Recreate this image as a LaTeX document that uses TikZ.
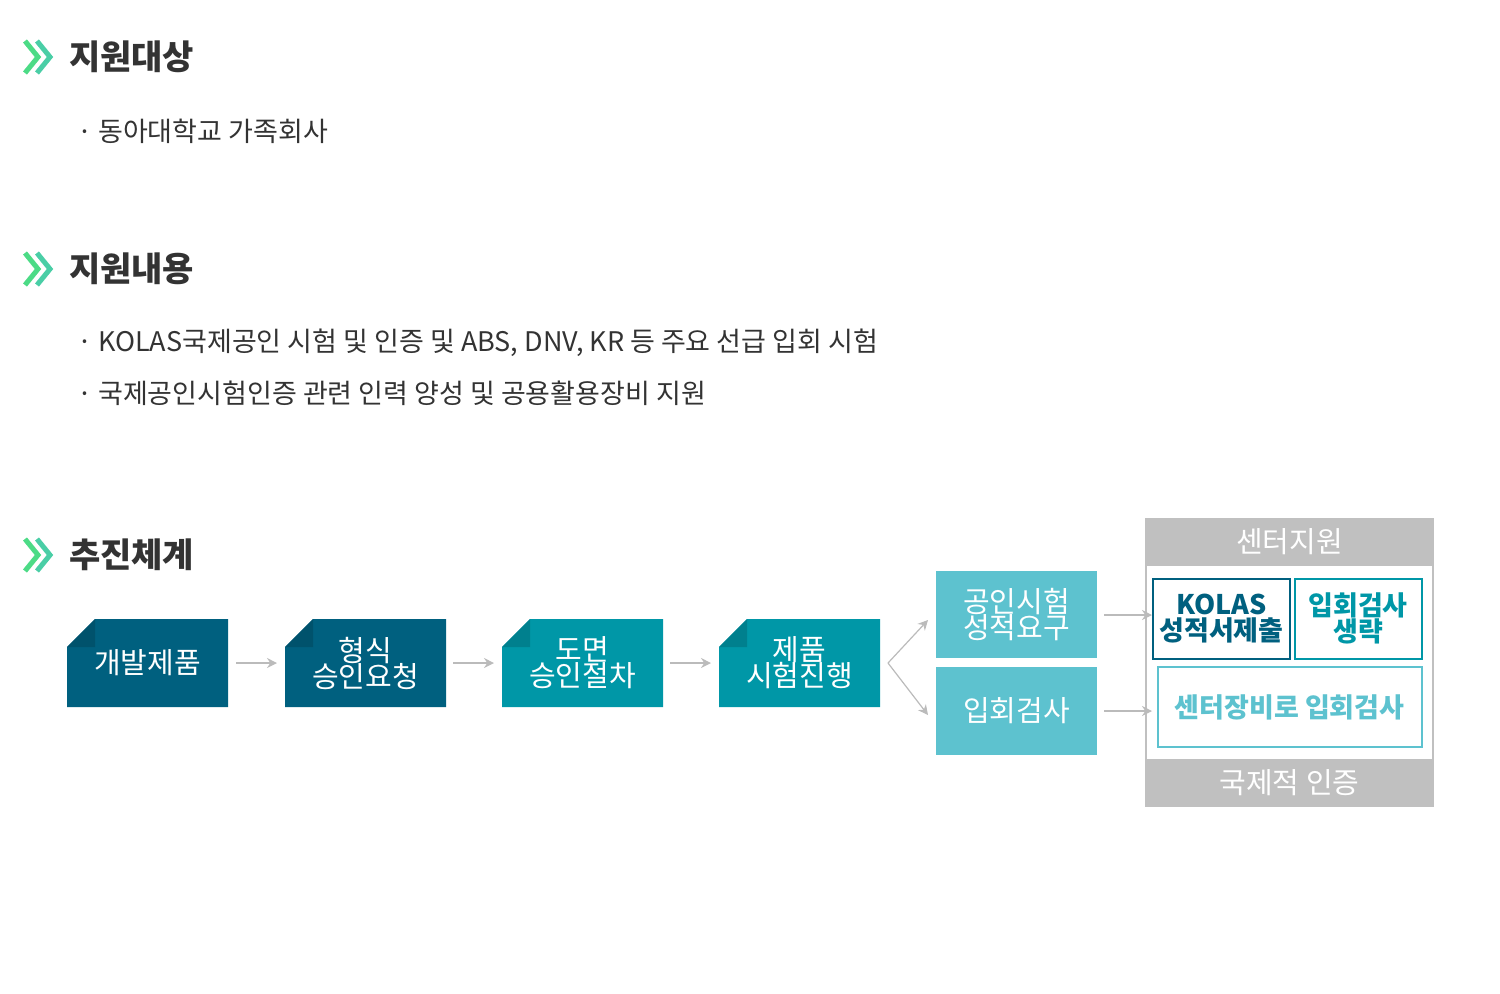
\documentclass[tikz,border=0pt]{standalone}
\usepackage{fontspec}
\setmainfont{Noto Sans CJK KR}
\usetikzlibrary{arrows.meta}
\definecolor{navy}{HTML}{00607F}
\definecolor{teal}{HTML}{0097A7}
\definecolor{aqua}{HTML}{5DC2CF}
\definecolor{panel}{HTML}{C0C0C0}
\definecolor{linkgray}{HTML}{BBBBBB}
\definecolor{txt}{HTML}{333333}
\tikzset{
  heading/.style={anchor=west, font=\fontsize{17}{20}\selectfont\bfseries, text=txt},
  bullet/.style={anchor=west, font=\fontsize{13.5}{16}\selectfont, text=txt},
  flow/.style={-{Stealth[length=5pt,width=5pt]}, linkgray, line width=0.6pt},
  boxtext/.style={text=white, align=center, font=\fontsize{14.5}{15}\selectfont},
}
\newcommand{\chev}[1]{%
  \draw[line width=2.5pt, color=green!60!cyan!80!black!70] (25,#1-16) -- (38,#1) -- (25,#1+16);
  \draw[line width=2.5pt, color=aqua!80!green] (37,#1-16) -- (50,#1) -- (37,#1+16);}
\newcommand{\foldbox}[4]{% x0, y0, colour, name
  \fill[#3] (#1+28,#2) -- (#1+161,#2) -- (#1+161,#2+88) -- (#1,#2+88) -- (#1,#2+28) -- cycle;
  \fill[#3!85!black] (#1,#2+28) -- (#1+28,#2) -- (#1+28,#2+28) -- cycle;
  \coordinate (#4) at (#1+80.5,#2+44);}
\begin{document}
\begin{tikzpicture}[x=0.5pt, y=-0.5pt]
  \useasboundingbox (0,0) rectangle (1500,993);
  % headings
  \chev{57}
  \node[heading] (h1) at (62,57) {지원대상};
  \node[bullet] (b1) at (70,131) {· 동아대학교 가족회사};
  \chev{269}
  \node[heading] (h2) at (62,269) {지원내용};
  \node[bullet] (b2) at (70,343) {· KOLAS국제공인 시험 및 인증 및 ABS, DNV, KR 등 주요 선급 입회 시험};
  \node[bullet] (b3) at (70,393) {· 국제공인시험인증 관련 인력 양성 및 공용활용장비 지원};
  \chev{555}
  \node[heading] (h3) at (62,555) {추진체계};
  % process
  \foldbox{67}{619}{navy}{p1}
  \foldbox{285}{619}{navy}{p2}
  \foldbox{502}{619}{teal}{p3}
  \foldbox{719}{619}{teal}{p4}
  \node[boxtext] at (p1) {개발제품};
  \node[boxtext] at (p2) {형식\\[-2pt]승인요청};
  \node[boxtext] at (p3) {도면\\[-2pt]승인절차};
  \node[boxtext] at (p4) {제품\\[-2pt]시험진행};
  \coordinate (a1) at (236,663); \coordinate (a2) at (277,663);
  \coordinate (a3) at (453,663); \coordinate (a4) at (494,663);
  \coordinate (a5) at (670,663); \coordinate (a6) at (711,663);
  \draw[flow] (a1) -- (a2);
  \draw[flow] (a3) -- (a4);
  \draw[flow] (a5) -- (a6);
  % split
  \node[fill=aqua, minimum width=80.5pt, minimum height=43.5pt, boxtext] (q1) at (1016.5,614.5) {공인시험\\[-2pt]성적요구};
  \node[fill=aqua, minimum width=80.5pt, minimum height=44pt, boxtext] (q2) at (1016.5,711) {입회검사};
  \coordinate (fork) at (888,663);
  \draw[flow] (fork) -- (928,620);
  \draw[flow] (fork) -- (928,715);
  % centre support panel
  \fill[panel] (1145,518) rectangle (1434,807);
  \fill[white] (1147,566) rectangle (1432,759);
  \node[text=white, font=\fontsize{14.5}{15}\selectfont] (c1) at (1289.5,542) {센터지원};
  \node[text=white, font=\fontsize{14.5}{15}\selectfont] (c2) at (1289.5,783) {국제적 인증};
  \node[draw=navy, line width=1pt, minimum width=64pt, minimum height=40pt, text=navy, align=center, font=\fontsize{13.5}{13}\selectfont\bfseries] (r1) at (1221.5,618.5) {KOLAS\\성적서제출};
  \node[draw=teal, line width=1pt, minimum width=63.5pt, minimum height=40pt, text=teal, align=center, font=\fontsize{13.5}{13}\selectfont\bfseries] (r2) at (1358,618.5) {입회검사\\생략};
  \node[draw=aqua, line width=1pt, minimum width=132pt, minimum height=40pt, text=aqua, font=\fontsize{13.5}{15}\selectfont\bfseries] (r3) at (1289.5,707) {센터장비로 입회검사};
  \draw[flow] (1104,615) -- (1152,615);
  \draw[flow] (1104,711) -- (1152,711);
\end{tikzpicture}
\end{document}
